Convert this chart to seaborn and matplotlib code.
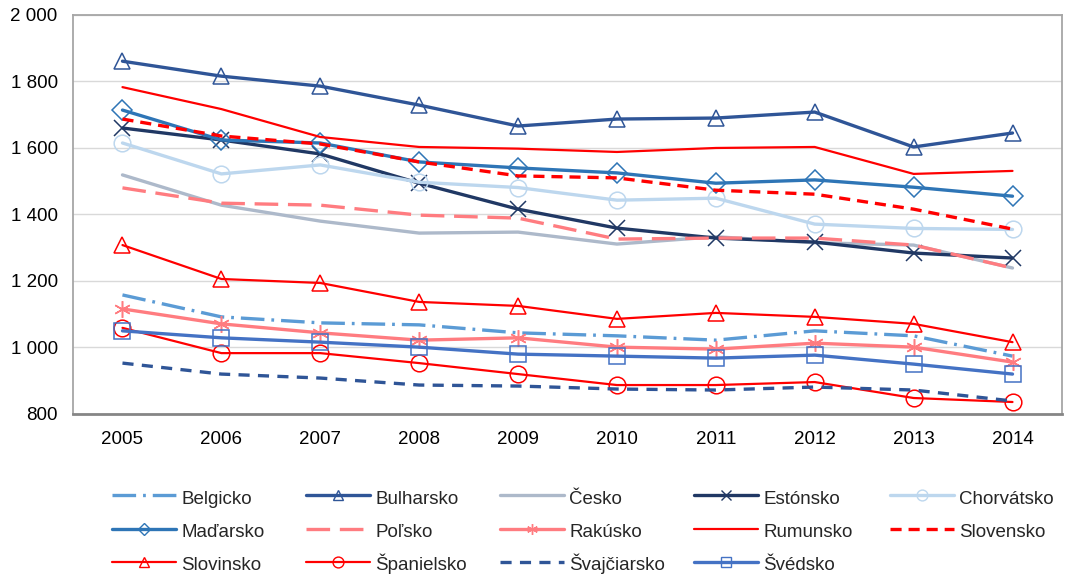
import matplotlib
matplotlib.use("Agg")
import matplotlib.pyplot as plt
import seaborn as sns
import pandas as pd
import numpy as np
from matplotlib.lines import Line2D
from matplotlib.ticker import FuncFormatter

years = [2005, 2006, 2007, 2008, 2009, 2010, 2011, 2012, 2013, 2014]

belgicko    = [1158, 1092, 1074, 1068, 1044, 1035, 1022, 1050, 1035, 974]
bulharsko   = [1861, 1816, 1786, 1729, 1666, 1687, 1690, 1708, 1603, 1645]
cesko       = [1519, 1428, 1380, 1344, 1347, 1311, 1333, 1315, 1308, 1239]
estonsko    = [1660, 1624, 1582, 1494, 1416, 1359, 1329, 1317, 1284, 1269]
chorvatsko  = [1615, 1522, 1549, 1497, 1481, 1443, 1449, 1371, 1358, 1355]
madarsko    = [1714, 1624, 1615, 1558, 1540, 1525, 1494, 1504, 1482, 1455]
polsko      = [1480, 1434, 1428, 1398, 1389, 1326, 1329, 1329, 1308, 1239]
rakusko     = [1116, 1071, 1044, 1022, 1029, 1001, 995, 1013, 1001, 956]
rumunsko    = [1783, 1717, 1633, 1603, 1598, 1588, 1600, 1603, 1522, 1531]
slovensko   = [1687, 1636, 1612, 1558, 1516, 1510, 1473, 1461, 1416, 1356]
slovinsko   = [1308, 1206, 1194, 1137, 1125, 1086, 1104, 1092, 1071, 1016]
spanielsko  = [1059, 983, 983, 953, 920, 887, 887, 896, 848, 836]
svajciarsko = [953, 920, 908, 887, 884, 875, 872, 881, 872, 839]
svedsko     = [1050, 1029, 1016, 1001, 980, 974, 968, 977, 950, 920]

names = ["Belgicko", "Bulharsko", "Česko", "Estónsko", "Chorvátsko",
         "Maďarsko", "Poľsko", "Rakúsko", "Rumunsko", "Slovensko",
         "Slovinsko", "Španielsko", "Švajčiarsko", "Švédsko"]
values = [belgicko, bulharsko, cesko, estonsko, chorvatsko,
          madarsko, polsko, rakusko, rumunsko, slovensko,
          slovinsko, spanielsko, svajciarsko, svedsko]

df = pd.DataFrame({
    "year": np.tile(years, len(names)),
    "country": np.repeat(names, len(years)),
    "value": np.concatenate(values),
})

# style: color, linewidth, dash pattern (None = solid), marker, markersize
styles = {
    "Belgicko":    ("#5B9BD5", 2.4, (17, 5, 2, 5), None, 0),
    "Bulharsko":   ("#2F5597", 2.4, None, "^", 12),
    "Česko":       ("#ADB9CA", 2.4, None, None, 0),
    "Estónsko":    ("#203864", 2.4, None, "x", 11),
    "Chorvátsko":  ("#BDD7EE", 2.4, None, "o", 12),
    "Maďarsko":    ("#2E75B6", 2.4, None, "D", 10),
    "Poľsko":      ("#FF7C80", 2.4, (17, 7), None, 0),
    "Rakúsko":     ("#FF7C80", 2.4, None, (6, 2, 0), 12),
    "Rumunsko":    ("#FF0000", 1.6, None, None, 0),
    "Slovensko":   ("#FF0000", 2.4, (8, 5), None, 0),
    "Slovinsko":   ("#FF0000", 1.6, None, "^", 12),
    "Španielsko":  ("#FF0000", 1.6, None, "o", 12),
    "Švajčiarsko": ("#2F5597", 2.4, (8, 6), None, 0),
    "Švédsko":     ("#4472C4", 2.4, None, "s", 11),
}

sns.set_style("white")
plt.rcParams["font.family"] = ["Liberation Sans", "DejaVu Sans"]
plt.rcParams["lines.scale_dashes"] = False

fig = plt.figure(figsize=(10.66, 5.76), dpi=100)
ax = fig.add_axes([0.0685, 0.2813, 0.9277, 0.6927])

handles = []
for name in names:
    c, lw, dash, mk, ms = styles[name]
    sub = df[df["country"] == name]
    sns.lineplot(data=sub, x="year", y="value", ax=ax, color=c, linewidth=lw,
                 legend=False, sort=False, zorder=3)
    line = ax.lines[-1]
    if dash is not None:
        line.set_dashes(dash)
    if mk is not None:
        line.set_marker(mk)
        line.set_markersize(ms)
        line.set_markerfacecolor("none")
        line.set_markeredgecolor(c)
        line.set_markeredgewidth(1.1)
    h = Line2D([0], [0], color=c, linewidth=lw,
               marker=mk if mk is not None else None,
               markersize=ms * 0.65, markerfacecolor="none",
               markeredgecolor=c, markeredgewidth=1.0)
    if dash is not None:
        h.set_dashes(dash)
    handles.append(h)

ax.set_xlim(years[0] - 0.5, years[-1] + 0.5)
ax.set_ylim(800, 2000)
ax.set_xticks(years)
ax.set_xticklabels([str(y) for y in years])
ax.set_yticks(np.arange(800, 2001, 200))
ax.yaxis.set_major_formatter(FuncFormatter(lambda v, p: f"{int(v):,}".replace(",", " ")))
ax.grid(axis="y", color="#D9D9D9", linewidth=1.0, zorder=0)
ax.set_axisbelow(True)
ax.set_xlabel("")
ax.set_ylabel("")
ax.tick_params(axis="both", length=0, labelsize=13.5, colors="black")
ax.tick_params(axis="y", pad=11)
ax.tick_params(axis="x", pad=12)
for side in ["left", "right", "top"]:
    ax.spines[side].set_color("#A6A6A6")
    ax.spines[side].set_linewidth(1.3)
ax.spines["bottom"].set_color("#868686")
ax.spines["bottom"].set_linewidth(2.0)

# legend: 5 equal-width columns
col_x = [112, 306, 500, 694, 890]
for ci in range(5):
    idx = [i for i in range(ci, len(names), 5)]
    fig.legend([handles[i] for i in idx], [names[i] for i in idx],
               loc="upper left",
               bbox_to_anchor=(col_x[ci] / 1066, 1 - 487 / 576),
               frameon=False, fontsize=13.5, handlelength=3.4,
               handleheight=1.3,
               handletextpad=0.3, labelspacing=0.69, borderpad=0,
               borderaxespad=0)

fig.savefig("out.png", dpi=100)
